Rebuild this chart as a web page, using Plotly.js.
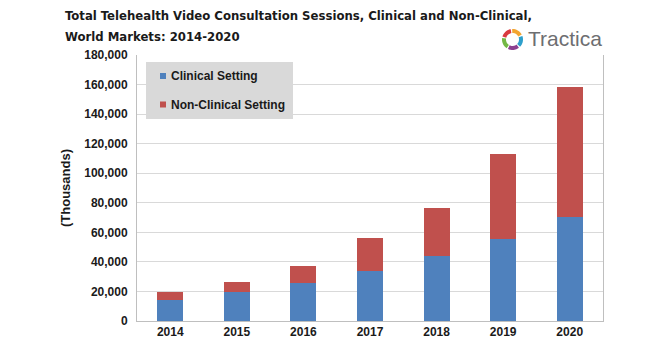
<!DOCTYPE html>
<html>
<head>
<meta charset="utf-8">
<script src="https://cdn.plot.ly/plotly-3.0.1.min.js"></script>
<style>html,body{margin:0;padding:0;background:#fff;}#chart{width:668px;height:346px;}</style>
</head>
<body>
<div id="chart"></div>
<script>
// ---- data ----
const years = ['2014', '2015', '2016', '2017', '2018', '2019', '2020'];
const clinical = [14500, 19400, 25500, 33600, 43800, 55700, 70100];
const nonClinical = [4800, 7300, 12000, 22800, 32900, 57400, 88500];
const seriesNames = ['Clinical Setting', 'Non-Clinical Setting'];
const yTicks = [0, 20000, 40000, 60000, 80000, 100000, 120000, 140000, 160000, 180000];
const yTickText = ['0', '20,000', '40,000', '60,000', '80,000', '100,000', '120,000', '140,000', '160,000', '180,000'];
const titleLines = ['Total Telehealth Video Consultation Sessions, Clinical and Non-Clinical,', 'World Markets: 2014-2020'];

// ---- geometry helpers (pixel -> paper) ----
const W = 668, H = 346;
const M = {l: 137, r: 65, t: 55, b: 25};
const PW = W - M.l - M.r, PH = H - M.t - M.b;
const px = x => (x - M.l) / PW;
const py = y => (H - M.b - y) / PH;

const blue = '#4F81BD', red = '#C0504D';
const baseFont = {family: 'Liberation Sans, Arial, sans-serif', size: 12, color: '#1a1a1a', weight: 'bold'};
const titleFont = {family: 'Liberation Sans Narrow, DejaVu Sans Condensed, Arial Narrow, sans-serif', size: 13, color: '#1a1a1a', weight: 'bold'};

const traces = [
  {type: 'bar', x: years, y: clinical, name: seriesNames[0], marker: {color: blue}, hoverinfo: 'x+y+name'},
  {type: 'bar', x: years, y: nonClinical, name: seriesNames[1], marker: {color: red}, hoverinfo: 'x+y+name'}
];

// logo ring arcs
function arc(cx, cy, r1, r2, a0, a1) {
  const pts = [];
  const n = 12;
  for (let i = 0; i <= n; i++) {
    const a = (a0 + (a1 - a0) * i / n) * Math.PI / 180;
    pts.push([px(cx + r2 * Math.cos(a)), py(cy - r2 * Math.sin(a))]);
  }
  for (let i = n; i >= 0; i--) {
    const a = (a0 + (a1 - a0) * i / n) * Math.PI / 180;
    pts.push([px(cx + r1 * Math.cos(a)), py(cy - r1 * Math.sin(a))]);
  }
  return 'M' + pts.map(p => p[0].toFixed(5) + ',' + p[1].toFixed(5)).join(' L') + ' Z';
}
const ringColors = ['#F2A531', '#D93A3F', '#74B845', '#8C3F8F', '#2E9FCB'];
const ringStarts = [28, 100, 172, 244, 316];
const shapes = [];
ringStarts.forEach((s, i) => {
  shapes.push({type: 'path', xref: 'paper', yref: 'paper', path: arc(512.5, 39.5, 6.5, 10.5, s, s + 64),
    fillcolor: ringColors[i], line: {width: 0}});
});
// legend box and keys
shapes.push({type: 'rect', xref: 'paper', yref: 'paper', x0: px(146), x1: px(293), y0: py(119), y1: py(62),
  fillcolor: '#D9D9D9', line: {width: 0}, layer: 'above'});
shapes.push({type: 'rect', xref: 'paper', yref: 'paper', x0: px(160), x1: px(166), y0: py(79), y1: py(73),
  fillcolor: blue, line: {width: 0}, layer: 'above'});
shapes.push({type: 'rect', xref: 'paper', yref: 'paper', x0: px(160), x1: px(166), y0: py(107.5), y1: py(101.5),
  fillcolor: red, line: {width: 0}, layer: 'above'});

const annotations = [
  {xref: 'paper', yref: 'paper', x: px(63), y: py(16), xanchor: 'left', yanchor: 'middle', showarrow: false,
    text: titleLines[0], font: titleFont},
  {xref: 'paper', yref: 'paper', x: px(63), y: py(36), xanchor: 'left', yanchor: 'middle', showarrow: false,
    text: titleLines[1], font: titleFont},
  {xref: 'paper', yref: 'paper', x: px(169), y: py(76), xanchor: 'left', yanchor: 'middle', showarrow: false,
    text: seriesNames[0], font: baseFont},
  {xref: 'paper', yref: 'paper', x: px(169), y: py(104.5), xanchor: 'left', yanchor: 'middle', showarrow: false,
    text: seriesNames[1], font: baseFont},
  {xref: 'paper', yref: 'paper', x: px(526), y: py(38), xanchor: 'left', yanchor: 'middle', showarrow: false,
    text: 'Tractica', font: {family: 'Liberation Sans, Arial, sans-serif', size: 21, color: '#6D6E71'}}
];

const layout = {
  width: W, height: H,
  margin: M,
  paper_bgcolor: '#fff', plot_bgcolor: '#fff',
  barmode: 'stack',
  bargap: 0.61,
  showlegend: false,
  xaxis: {type: 'category', showgrid: false, showline: true, linecolor: '#BFBFBF', linewidth: 1,
    ticks: '', tickfont: baseFont, mirror: false, fixedrange: true},
  yaxis: {range: [0, 180000], tickvals: yTicks, ticktext: yTickText, showgrid: true, gridcolor: '#D9D9D9',
    gridwidth: 1, showline: true, linecolor: '#BFBFBF', linewidth: 1, mirror: true, ticks: '',
    ticklabelstandoff: 6, tickfont: baseFont, zeroline: false, fixedrange: true,
    title: {text: '(Thousands)', font: {family: 'Liberation Sans, Arial, sans-serif', size: 13, color: '#1a1a1a', weight: 'bold'}, standoff: 10}},
  shapes: shapes,
  annotations: annotations
};

Plotly.newPlot('chart', traces, layout, {displayModeBar: false, staticPlot: true});
</script>
</body>
</html>
